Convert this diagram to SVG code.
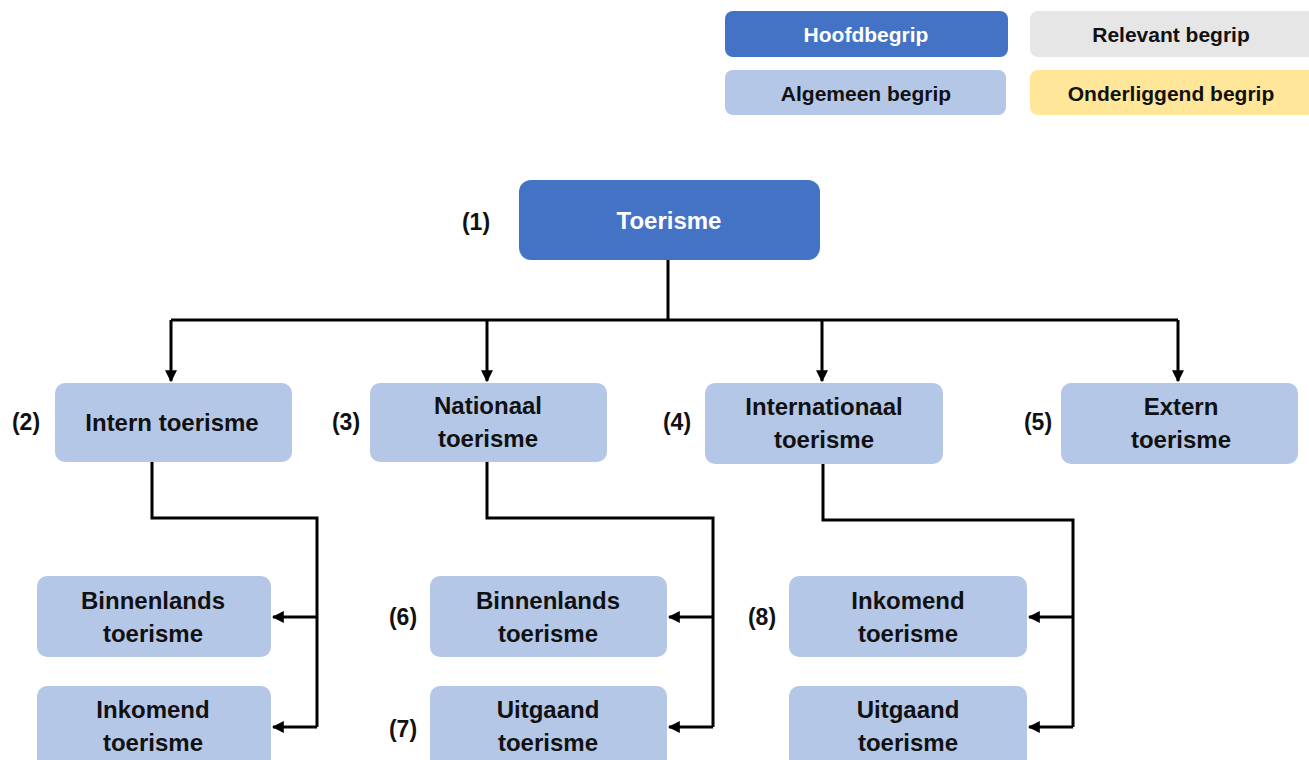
<svg xmlns="http://www.w3.org/2000/svg" width="1309" height="760" viewBox="0 0 1309 760">
  <style>
    text { font-family: "Liberation Sans", Arial, sans-serif; font-weight: bold; text-anchor: middle; fill: #111; }
    .lg { font-size: 21px; }
    .nd { font-size: 24px; }
    .num { font-size: 23px; }
    .white { fill: #fff; }
    .main { fill: #4472C4; }
    .gen { fill: #B4C7E7; }
    .rel { fill: #E6E6E6; }
    .sub { fill: #FFE699; }
    .wire { fill: none; stroke: #000; stroke-width: 3; }
  </style>
  <defs>
    <marker id="arrow" viewBox="0 0 10 10" refX="9" refY="5" markerWidth="4" markerHeight="4" orient="auto" markerUnits="strokeWidth">
      <path d="M0,0 L10,5 L0,10 Z" fill="#000"/>
    </marker>
  </defs>
  <rect width="1309" height="760" fill="#fff"/>

  <!-- legend -->
  <g id="legend">
    <g id="legend-hoofdbegrip">
      <rect class="main" x="725" y="11" width="283" height="46" rx="8"/>
      <text class="lg white" x="866" y="42">Hoofdbegrip</text>
    </g>
    <g id="legend-relevant">
      <rect class="rel" x="1030" y="11" width="290" height="46" rx="8"/>
      <text class="lg" x="1171" y="42">Relevant begrip</text>
    </g>
    <g id="legend-algemeen">
      <rect class="gen" x="725" y="70" width="281" height="45" rx="8"/>
      <text class="lg" x="866" y="101">Algemeen begrip</text>
    </g>
    <g id="legend-onderliggend">
      <rect class="sub" x="1030" y="70" width="290" height="45" rx="8"/>
      <text class="lg" x="1171" y="101">Onderliggend begrip</text>
    </g>
  </g>

  <!-- connectors -->
  <g id="connectors">
    <path class="wire" d="M668,260 V320 M171,320 H1178"/>
    <path class="wire" d="M171,320 V381" marker-end="url(#arrow)"/>
    <path class="wire" d="M487,320 V381" marker-end="url(#arrow)"/>
    <path class="wire" d="M822,320 V381" marker-end="url(#arrow)"/>
    <path class="wire" d="M1178,320 V381" marker-end="url(#arrow)"/>

    <path class="wire" d="M152,462 V518 H317 V727"/>
    <path class="wire" d="M317,617 H273" marker-end="url(#arrow)"/>
    <path class="wire" d="M317,727 H273" marker-end="url(#arrow)"/>

    <path class="wire" d="M487,462 V518 H713 V727"/>
    <path class="wire" d="M713,617 H669" marker-end="url(#arrow)"/>
    <path class="wire" d="M713,727 H669" marker-end="url(#arrow)"/>

    <path class="wire" d="M823,464 V520 H1073 V727"/>
    <path class="wire" d="M1073,617 H1029" marker-end="url(#arrow)"/>
    <path class="wire" d="M1073,727 H1029" marker-end="url(#arrow)"/>
  </g>

  <!-- level 1 -->
  <g id="n1-toerisme">
    <rect class="main" x="519" y="180" width="301" height="80" rx="12"/>
    <text class="nd white" x="669" y="229">Toerisme</text>
    <text class="num" x="476" y="230">(1)</text>
  </g>

  <!-- level 2 -->
  <g id="n2-intern">
    <rect class="gen" x="55" y="383" width="237" height="79" rx="10"/>
    <text class="nd" x="172" y="431">Intern toerisme</text>
    <text class="num" x="26" y="430">(2)</text>
  </g>
  <g id="n3-nationaal">
    <rect class="gen" x="370" y="383" width="237" height="79" rx="10"/>
    <text class="nd" x="488" y="414">Nationaal</text>
    <text class="nd" x="488" y="447">toerisme</text>
    <text class="num" x="346" y="430">(3)</text>
  </g>
  <g id="n4-internationaal">
    <rect class="gen" x="705" y="383" width="238" height="81" rx="10"/>
    <text class="nd" x="824" y="415">Internationaal</text>
    <text class="nd" x="824" y="448">toerisme</text>
    <text class="num" x="677" y="430">(4)</text>
  </g>
  <g id="n5-extern">
    <rect class="gen" x="1061" y="383" width="237" height="81" rx="10"/>
    <text class="nd" x="1181" y="415">Extern</text>
    <text class="nd" x="1181" y="448">toerisme</text>
    <text class="num" x="1038" y="430">(5)</text>
  </g>

  <!-- level 3 under intern -->
  <g id="n-intern-binnenlands">
    <rect class="gen" x="37" y="576" width="234" height="81" rx="10"/>
    <text class="nd" x="153" y="609">Binnenlands</text>
    <text class="nd" x="153" y="642">toerisme</text>
  </g>
  <g id="n-intern-inkomend">
    <rect class="gen" x="37" y="686" width="234" height="90" rx="10"/>
    <text class="nd" x="153" y="718">Inkomend</text>
    <text class="nd" x="153" y="751">toerisme</text>
  </g>

  <!-- level 3 under nationaal -->
  <g id="n6-binnenlands">
    <rect class="gen" x="430" y="576" width="237" height="81" rx="10"/>
    <text class="nd" x="548" y="609">Binnenlands</text>
    <text class="nd" x="548" y="642">toerisme</text>
    <text class="num" x="403" y="625">(6)</text>
  </g>
  <g id="n7-uitgaand">
    <rect class="gen" x="430" y="686" width="237" height="90" rx="10"/>
    <text class="nd" x="548" y="718">Uitgaand</text>
    <text class="nd" x="548" y="751">toerisme</text>
    <text class="num" x="403" y="737">(7)</text>
  </g>

  <!-- level 3 under internationaal -->
  <g id="n8-inkomend">
    <rect class="gen" x="789" y="576" width="238" height="81" rx="10"/>
    <text class="nd" x="908" y="609">Inkomend</text>
    <text class="nd" x="908" y="642">toerisme</text>
    <text class="num" x="762" y="625">(8)</text>
  </g>
  <g id="n-internationaal-uitgaand">
    <rect class="gen" x="789" y="686" width="238" height="90" rx="10"/>
    <text class="nd" x="908" y="718">Uitgaand</text>
    <text class="nd" x="908" y="751">toerisme</text>
  </g>
</svg>
